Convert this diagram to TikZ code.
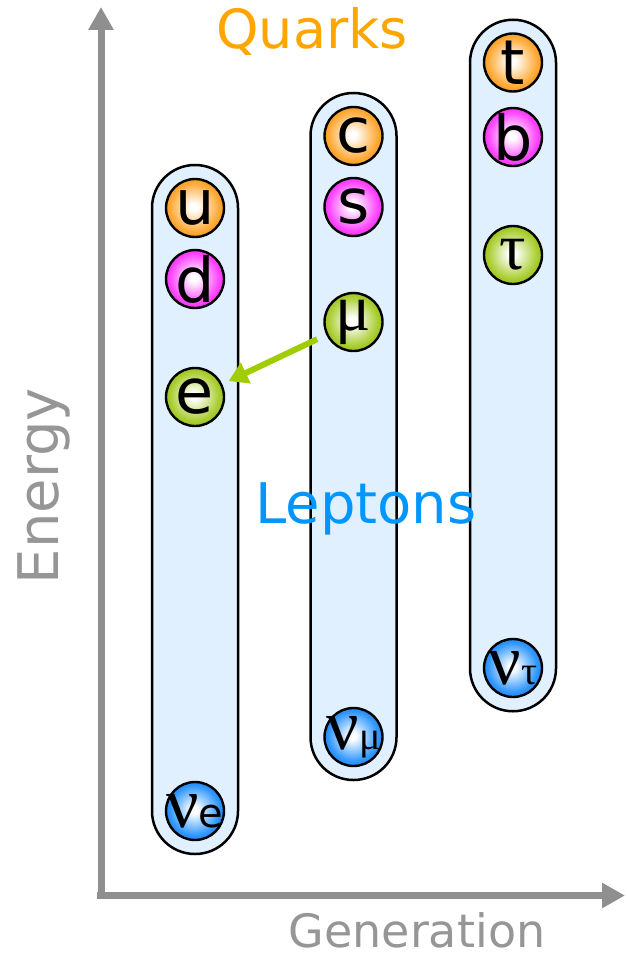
\documentclass[tikz,border=0pt]{standalone}
\usepackage{fontspec}
\setmainfont{DejaVu Sans}
\newfontfamily\grk{Liberation Serif}
\usetikzlibrary{arrows.meta}
\definecolor{axgray}{RGB}{143,143,143}
\definecolor{txgray}{RGB}{150,150,150}
\definecolor{boxfill}{RGB}{225,240,255}
\definecolor{quarkcol}{RGB}{255,165,0}
\definecolor{leptcol}{RGB}{0,150,255}
\definecolor{arrowgreen}{RGB}{160,204,0}
\definecolor{cor}{RGB}{255,170,55}
\definecolor{cord}{RGB}{245,155,40}
\definecolor{cmg}{RGB}{255,70,255}
\definecolor{cmgd}{RGB}{235,55,235}
\definecolor{cgr}{RGB}{170,206,50}
\definecolor{cgrd}{RGB}{155,194,35}
\definecolor{cbl}{RGB}{51,153,255}
\definecolor{cbld}{RGB}{35,135,245}
\newcommand\mkball[3]{\pgfdeclareradialshading{#1}{\pgfpoint{-1bp}{1bp}}{color(0bp)=(white);color(3bp)=(white);color(21bp)=(#2);color(25bp)=(#3);color(50bp)=(#3)}}
\mkball{shor}{cor}{cord}
\mkball{shmg}{cmg}{cmgd}
\mkball{shgr}{cgr}{cgrd}
\mkball{shbl}{cbl}{cbld}
\tikzset{
  axisline/.style={line width=7pt, draw=axgray, -{Triangle[length=23pt,width=24pt]}},
  column/.style={rectangle, rounded corners=42.9pt, fill=boxfill, draw=black, line width=2.5pt, minimum width=86pt, inner sep=0pt},
  ball/.style={circle, minimum size=58pt, inner sep=0pt, draw=black, line width=2.4pt, shading=#1},
  lett/.style={font=\fontsize{62}{62}\selectfont, text=black, inner sep=0pt},
  grklett/.style={font=\fontsize{66}{66}\selectfont\grk, text=black, inner sep=0pt},
  garrow/.style={line width=6pt, draw=arrowgreen, -{Triangle[length=19pt,width=22pt]}},
  bigtext/.style={inner sep=0pt, anchor=base},
}
\newcommand\nusub[1]{{\fontsize{72}{72}\selectfont\grk ν}{\fontsize{40}{40}\selectfont #1}}
\begin{document}
\begin{tikzpicture}[x=1pt,y=-1pt]
\useasboundingbox (0,0) rectangle (626,960);
% axes
\coordinate (origin) at (97,895.5);
\coordinate (ytip) at (101,7);
\coordinate (xtip) at (625,895.5);
\coordinate (ybase) at (101,899);
\draw[axisline] (ybase) -- (ytip);
\draw[axisline] (origin) -- (xtip);
% columns
\node[column, minimum height=689pt] (col1) at (195,509.5) {};
\node[column, minimum height=687pt] (col2) at (353.5,436.5) {};
\node[column, minimum height=691.5pt] (col3) at (513,365.5) {};
% particles
\node[ball=shor, label={[lett]center:u}] (u) at (195,208) {};
\node[ball=shmg, label={[lett]center:d}] (d) at (195,279) {};
\node[ball=shgr, label={[lett]center:e}] (e) at (195,397) {};
\node[ball=shbl, label={[inner sep=0pt]center:\nusub{e}}] (nue) at (195,811) {};
\node[ball=shor, label={[lett]center:c}] (c) at (353.5,136) {};
\node[ball=shmg, label={[lett]center:s}] (s) at (353.5,207) {};
\node[ball=shgr, label={[grklett]center:μ}] (mu) at (353.5,322) {};
\node[ball=shbl, label={[inner sep=0pt]center:\nusub{\grk μ}}] (numu) at (353.5,737) {};
\node[ball=shor, label={[lett]center:t}] (t) at (513,62.5) {};
\node[ball=shmg, label={[lett]center:b}] (b) at (513,137) {};
\node[ball=shgr, label={[grklett]center:τ}] (tau) at (513,255) {};
\node[ball=shbl, label={[inner sep=0pt]center:\nusub{\grk τ}}] (nutau) at (513,668) {};
% decay arrow
\draw[garrow, shorten <=10pt, shorten >=7pt] (mu) -- (e);
% texts
\node[bigtext, text=quarkcol, font=\fontsize{54}{54}\selectfont] (quarks) at (312,49) {Quarks};
\node[bigtext, text=leptcol, font=\fontsize{56}{56}\selectfont] (leptons) at (366,523) {Leptons};
\node[bigtext, text=txgray, font=\fontsize{46}{46}\selectfont] (gen) at (417,947) {Generation};
\node[bigtext, text=txgray, font=\fontsize{56}{56}\selectfont, rotate=90] (energy) at (58,486) {Energy};
\end{tikzpicture}
\end{document}
